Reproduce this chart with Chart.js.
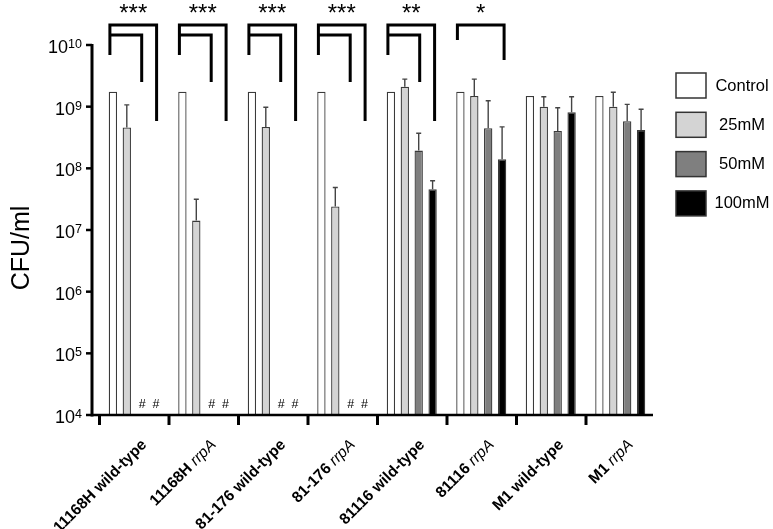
<!DOCTYPE html>
<html>
<head>
<meta charset="utf-8">
<script src="https://cdn.jsdelivr.net/npm/chart.js@4.4.0/dist/chart.umd.min.js"></script>
<style>
  html, body { margin: 0; padding: 0; background: #fff; }
  canvas { display: block; }
</style>
</head>
<body>
<canvas id="chart" width="773" height="529"></canvas>
<script>
// strain / variant for each group on the x axis
const strains = ['11168H', '11168H', '81-176', '81-176', '81116', '81116', 'M1', 'M1'];
const variants = ['wild-type', 'rrpA', 'wild-type', 'rrpA', 'wild-type', 'rrpA', 'wild-type', 'rrpA'];

// CFU/ml (mean) and SD (upper error bar)
const control = [1.75e9, 1.75e9, 1.75e9, 1.75e9, 1.75e9, 1.75e9, 1.49e9, 1.49e9];
const mM25 = [4.6e8, 1.42e7, 4.7e8, 2.4e7, 2.1e9, 1.49e9, 1.0e9, 1.0e9];
const mM25Sd = [6.1e8, 1.73e7, 5.1e8, 2.5e7, 7.0e8, 1.31e9, 4.5e8, 7.1e8];
const mM50 = [null, null, null, null, 1.94e8, 4.46e8, 4.04e8, 5.8e8];
const mM50Sd = [null, null, null, null, 1.76e8, 8.0e8, 5.56e8, 5.1e8];
const mM100 = [null, null, null, null, 4.6e7, 1.4e8, 8.1e8, 4.2e8];
const mM100Sd = [null, null, null, null, 1.7e7, 3.3e8, 6.4e8, 4.9e8];

// significance vs control
const sigLabels = ['***', '***', '***', '***', '**', '*', '', ''];
const decades = [4, 5, 6, 7, 8, 9, 10];

const FONT = '"Liberation Sans", Arial, sans-serif';

const datasets = [
  { label: 'Control', data: control, sd: null, backgroundColor: '#ffffff' },
  { label: '25mM', data: mM25, sd: mM25Sd, backgroundColor: '#d4d4d4' },
  { label: '50mM', data: mM50, sd: mM50Sd, backgroundColor: '#7f7f7f' },
  { label: '100mM', data: mM100, sd: mM100Sd, backgroundColor: '#000000' }
].map(d => ({ ...d, borderColor: '#3a3a3a', borderWidth: 1.3, borderSkipped: 'bottom' }));

const errorBars = {
  id: 'errorBars',
  afterDatasetsDraw(chart) {
    const ctx = chart.ctx;
    const y = chart.scales.y;
    ctx.save();
    ctx.strokeStyle = '#444';
    ctx.lineWidth = 1.4;
    chart.data.datasets.forEach((ds, di) => {
      if (!ds.sd) return;
      const meta = chart.getDatasetMeta(di);
      ds.data.forEach((v, i) => {
        if (v == null || ds.sd[i] == null) return;
        const bar = meta.data[i];
        const top = y.getPixelForValue(v + ds.sd[i]);
        ctx.beginPath();
        ctx.moveTo(bar.x, bar.y);
        ctx.lineTo(bar.x, top);
        ctx.moveTo(bar.x - 2.5, top);
        ctx.lineTo(bar.x + 2.5, top);
        ctx.stroke();
      });
    });
    ctx.restore();
  }
};

const decorations = {
  id: 'decorations',
  afterDraw(chart) {
    const ctx = chart.ctx;
    const x = chart.scales.x;
    const y = chart.scales.y;
    const area = chart.chartArea;
    const axisX = area.left - 7;
    const catW = (area.right - area.left) / strains.length;
    ctx.save();

    // y axis
    ctx.strokeStyle = '#000';
    ctx.lineWidth = 3;
    ctx.beginPath();
    ctx.moveTo(axisX, y.getPixelForValue(1e10) - 1);
    ctx.lineTo(axisX, area.bottom + 1.5);
    ctx.stroke();
    ctx.fillStyle = '#000';
    decades.forEach(p => {
      const py = y.getPixelForValue(Math.pow(10, p));
      ctx.lineWidth = 2.5;
      ctx.beginPath();
      ctx.moveTo(axisX - 6, py);
      ctx.lineTo(axisX, py);
      ctx.stroke();
      ctx.textAlign = 'right';
      ctx.textBaseline = 'alphabetic';
      ctx.font = '12.5px ' + FONT;
      const exp = String(p);
      const ew = ctx.measureText(exp).width;
      ctx.fillText(exp, axisX - 10, py + 3);
      ctx.font = '18px ' + FONT;
      ctx.fillText('10', axisX - 10 - ew, py + 8);
    });

    // y title
    ctx.save();
    ctx.translate(22, 248);
    ctx.rotate(-Math.PI / 2);
    ctx.textAlign = 'center';
    ctx.textBaseline = 'middle';
    ctx.font = '25px ' + FONT;
    ctx.fillText('CFU/ml', 0, 0);
    ctx.restore();

    // x axis
    ctx.lineWidth = 2.5;
    ctx.beginPath();
    ctx.moveTo(axisX, area.bottom);
    ctx.lineTo(area.right - 2, area.bottom);
    ctx.stroke();
    strains.forEach((s, i) => {
      const cx = x.getPixelForValue(i);
      const tx = cx - catW / 2 + 0.5;
      ctx.lineWidth = 3;
      ctx.beginPath();
      ctx.moveTo(tx, area.bottom);
      ctx.lineTo(tx, area.bottom + 10);
      ctx.stroke();

      // rotated label: bold strain + variant (italic for rrpA)
      const italic = variants[i] === 'rrpA';
      const boldFont = 'bold 15.5px ' + FONT;
      const varFont = (italic ? 'italic 15.5px ' : 'bold 15.5px ') + FONT;
      ctx.save();
      ctx.translate(cx + 5, area.bottom + 22);
      ctx.rotate(-Math.PI / 4);
      ctx.textBaseline = 'top';
      ctx.textAlign = 'right';
      ctx.font = varFont;
      const vw = ctx.measureText(variants[i]).width;
      ctx.fillText(variants[i], 0, 0);
      ctx.font = boldFont;
      ctx.fillText(s + ' ', -vw, 0);
      ctx.restore();
    });

    // "#" for groups without surviving counts
    ctx.font = '12.5px ' + FONT;
    ctx.textAlign = 'center';
    ctx.textBaseline = 'alphabetic';
    [2, 3].forEach(di => {
      const meta = chart.getDatasetMeta(di);
      chart.data.datasets[di].data.forEach((v, i) => {
        if (v == null) ctx.fillText('#', meta.data[i].x + 1.5, area.bottom - 7);
      });
    });

    // significance brackets
    const m0 = chart.getDatasetMeta(0);
    const m2 = chart.getDatasetMeta(2);
    const m3 = chart.getDatasetMeta(3);
    ctx.strokeStyle = '#000';
    ctx.lineWidth = 3;
    ctx.lineCap = 'butt';
    sigLabels.forEach((lab, i) => {
      if (!lab) return;
      const xl = m0.data[i].x - 3;
      const x2 = m2.data[i].x + 1;
      const x3 = m3.data[i].x + 2;
      ctx.beginPath();
      if (lab.length > 1) {
        ctx.moveTo(xl, 55);
        ctx.lineTo(xl, 25);
        ctx.lineTo(x3, 25);
        ctx.lineTo(x3, 121);
        ctx.moveTo(xl, 35);
        ctx.lineTo(x2, 35);
        ctx.lineTo(x2, 82);
      } else {
        ctx.moveTo(xl, 40);
        ctx.lineTo(xl, 25);
        ctx.lineTo(x3, 25);
        ctx.lineTo(x3, 60);
      }
      ctx.stroke();
      ctx.font = '24px ' + FONT;
      ctx.textAlign = 'center';
      ctx.textBaseline = 'alphabetic';
      ctx.fillText(lab, (xl + x3) / 2, 21);
    });

    // legend
    chart.data.datasets.forEach((ds, di) => {
      const by = 73 + di * 39.3;
      ctx.fillStyle = ds.backgroundColor;
      ctx.fillRect(676, by, 30, 25);
      ctx.strokeStyle = '#333';
      ctx.lineWidth = 1.5;
      ctx.strokeRect(676, by, 30, 25);
      ctx.fillStyle = '#000';
      ctx.font = '16.5px ' + FONT;
      ctx.textAlign = 'center';
      ctx.textBaseline = 'middle';
      ctx.fillText(ds.label, 742, by + 13);
    });

    ctx.restore();
  }
};

new Chart(document.getElementById('chart'), {
  type: 'bar',
  data: { labels: strains.map((s, i) => s + ' ' + variants[i]), datasets },
  options: {
    responsive: false,
    devicePixelRatio: 1,
    animation: false,
    layout: { padding: { left: 99, right: 118, top: 45, bottom: 114 } },
    datasets: { bar: { categoryPercentage: 0.8, barPercentage: 0.6 } },
    scales: {
      x: { type: 'category', display: false, offset: true },
      y: { type: 'logarithmic', display: false, min: 1e4, max: 1e10 }
    },
    plugins: { legend: { display: false }, tooltip: { enabled: false } }
  },
  plugins: [errorBars, decorations]
});
</script>
</body>
</html>
